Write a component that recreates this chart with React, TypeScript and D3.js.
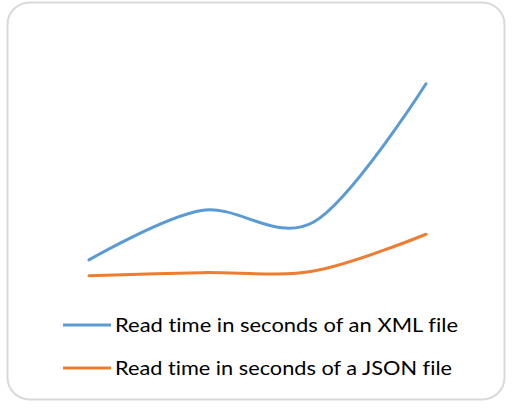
import React from "react";
import * as d3 from "d3";

const categories = ["1", "2", "3", "4"];
const xmlValues = [1.67, 3.73, 3.25, 9.01];
const jsonValues = [1.01, 1.14, 1.21, 2.74];
const seriesNames = [
  "Read time in seconds of an XML file",
  "Read time in seconds of a JSON file",
];

const W = 516;
const H = 408;

export default function App() {
  const x = d3.scalePoint<string>().domain(categories).range([89, 426]);
  const y = d3.scaleLinear().domain([0, 10]).range([300, 60]);
  const line = d3
    .line<number>()
    .x((_, i) => x(categories[i]) as number)
    .y((d) => y(d))
    .curve(d3.curveCardinal.tension(0));

  const series = [
    { name: seriesNames[0], values: xmlValues, color: "#5b9bd5" },
    { name: seriesNames[1], values: jsonValues, color: "#ed7d31" },
  ];
  const legendY = [325, 368];
  const textLen = [343, 337];

  return (
    <svg
      width={W}
      height={H}
      style={{ position: "absolute", left: 0, top: 0, background: "#fff" }}
    >
      <rect
        x={7.5}
        y={2.5}
        width={497}
        height={397}
        rx={22}
        ry={22}
        fill="#fff"
        stroke="#d9d9d9"
        strokeWidth={2}
      />
      {series.map((s) => (
        <path
          key={s.name}
          d={line(s.values) || ""}
          fill="none"
          stroke={s.color}
          strokeWidth={3}
          strokeLinecap="round"
        />
      ))}
      {series.map((s, i) => (
        <g key={"lg" + i}>
          <line
            x1={63}
            x2={111}
            y1={legendY[i]}
            y2={legendY[i]}
            stroke={s.color}
            strokeWidth={3}
          />
          <text
            x={115}
            y={legendY[i] + 7}
            fontFamily="Lato, 'Open Sans', sans-serif"
            fontSize={20}
            fill="#000"
            textLength={textLen[i]}
            lengthAdjust="spacingAndGlyphs"
            style={{ fontVariantLigatures: "none", fontFeatureSettings: "'liga' 0" }}
          >
            {s.name}
          </text>
        </g>
      ))}
    </svg>
  );
}
